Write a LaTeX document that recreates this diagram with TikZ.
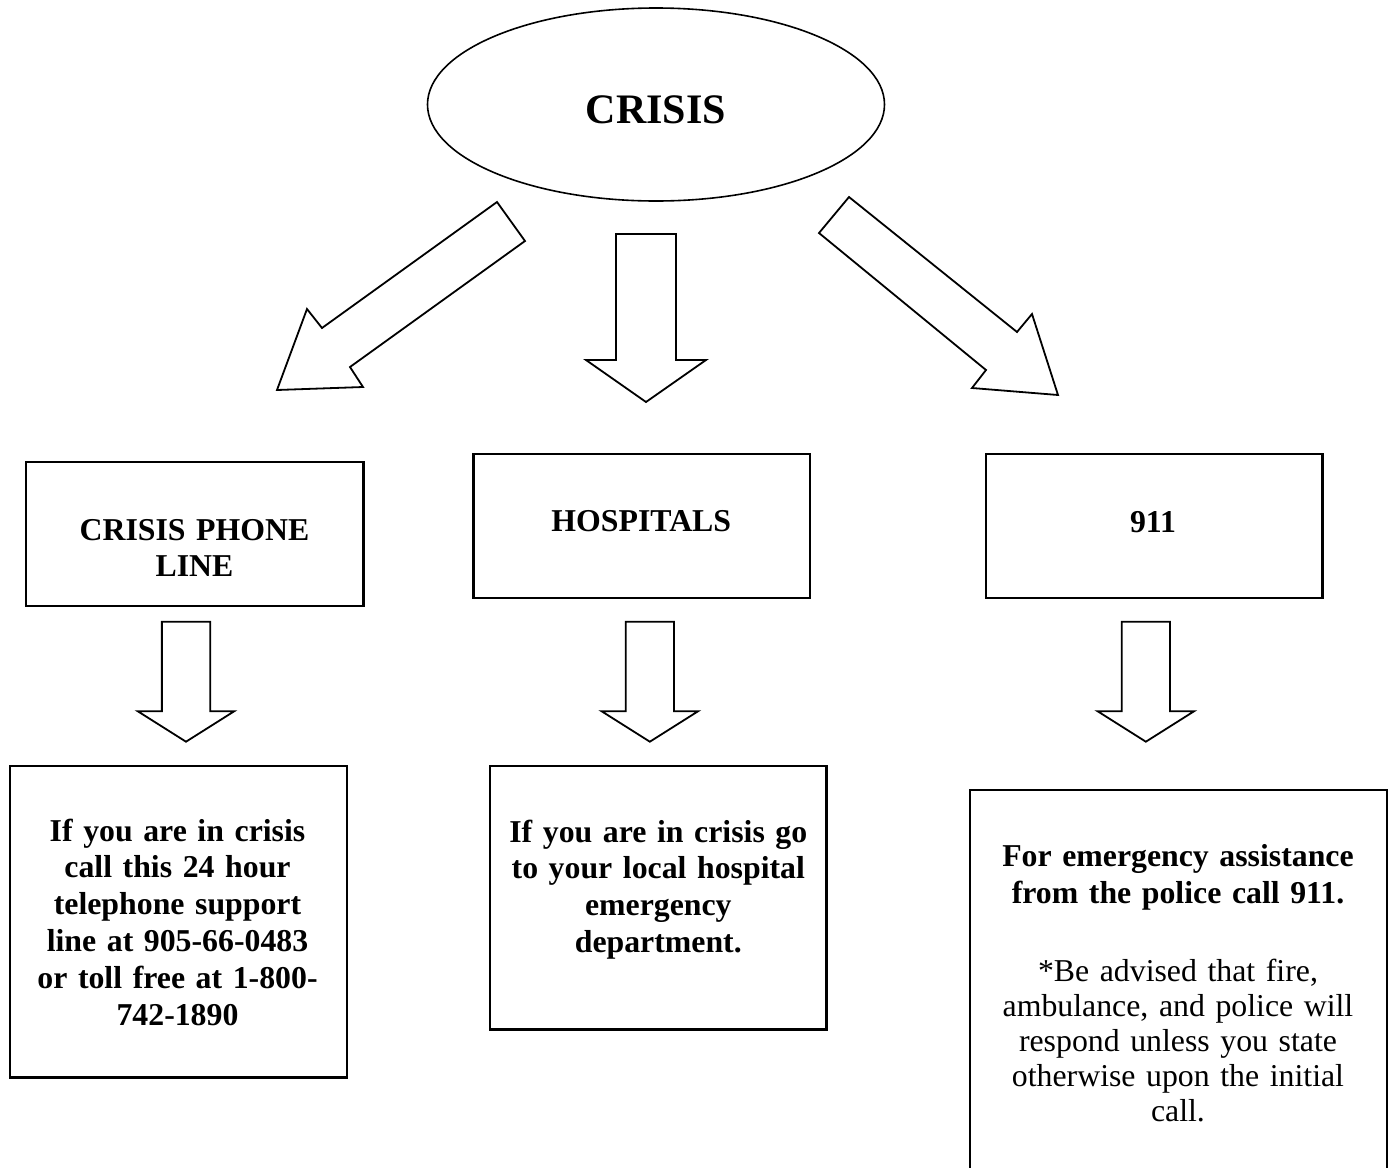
\documentclass[tikz,border=0pt]{standalone}
\usepackage{fontspec}
\setmainfont{Liberation Serif}
\usetikzlibrary{shapes.geometric}
\begin{document}
\begin{tikzpicture}[x=0.5pt,y=-0.5pt,
  boxstyle/.style={draw, line width=1.2pt, rectangle, inner sep=0pt},
  arrowline/.style={draw, line width=0.9pt, line join=miter, fill=white},
  boldtext/.style={font=\fontsize{15.9}{18.45}\selectfont\bfseries, align=center, anchor=base, inner sep=0pt, text width=200pt},
  regtext/.style={font=\fontsize{15.9}{17.5}\selectfont, align=center, anchor=base, inner sep=0pt, text width=200pt},
  downarr/.pic={\draw[arrowline] (-24.15,0) -- (24.15,0) -- (24.15,89.5) -- (48.3,89.5) -- (0,120) -- (-48.3,89.5) -- (-24.15,89.5) -- cycle;}
]
\clip (0,0) rectangle (1394,1168);
\fill[white] (0,0) rectangle (1394,1168);

% top ellipse
\node[draw, ellipse, line width=0.8pt, minimum width=228.5pt, minimum height=96.5pt, inner sep=0pt] (crisis) at (656,104.5) {};
\node[font=\fontsize{21}{25}\selectfont\bfseries, anchor=base, inner sep=0pt] (crisislbl) at (656,123) {CRISIS};

% big block arrows
\draw[arrowline] (497,202) -- (525,241) -- (350,367) -- (363,387) -- (277,390) -- (307,309) -- (322,328) -- cycle;
\draw[arrowline] (616,234) -- (676,234) -- (676,360) -- (706,360) -- (646,402) -- (586,360) -- (616,360) -- cycle;
\draw[arrowline] (849,197) -- (1017,332) -- (1032,314) -- (1058,395) -- (972,388) -- (986,370) -- (819,233) -- cycle;

% middle boxes
\node[boxstyle, minimum width=168.65pt, minimum height=72.15pt] (phone) at (194.65,533.85) {};
\node[boxstyle, minimum width=168.35pt, minimum height=71.85pt] (hosp) at (641.65,525.85) {};
\node[boxstyle, minimum width=168.3pt, minimum height=71.85pt] (nine) at (1154,525.85) {};

\node[boldtext] (phonelbl) at (194.5,540) {CRISIS PHONE\\LINE};
\node[boldtext] (hosplbl) at (641.3,531.7) {HOSPITALS};
\node[boldtext] (ninelbl) at (1153,532.7) {911};

% small down arrows
\pic at (186,621.7) {downarr};
\pic at (649.85,621.7) {downarr};
\pic at (1145.85,621.7) {downarr};

% bottom boxes
\node[boxstyle, minimum width=168.35pt, minimum height=155.65pt] (phoneinfo) at (178.35,921.65) {};
\node[boxstyle, minimum width=168.25pt, minimum height=131.65pt] (hospinfo) at (658.25,897.65) {};
\node[boxstyle, minimum width=208.35pt, minimum height=195pt] (nineinfo) at (1178.35,985) {};

\node[boldtext] (phoneinfolbl) at (177.5,841) {If you are in crisis\\call this 24 hour\\telephone support\\line at 905-66-0483\\or toll free at 1-800-\\742-1890};
\node[boldtext] (hospinfolbl) at (658.3,842) {If you are in crisis go\\to your local hospital\\emergency\\department.};
\node[boldtext] (nineinfolbl) at (1178,866.7) {For emergency assistance\\from the police call 911.};
\node[regtext] (nineinfonote) at (1178,981.7) {*Be advised that fire,\\ambulance, and police will\\respond unless you state\\otherwise upon the initial\\call.};
\end{tikzpicture}
\end{document}
